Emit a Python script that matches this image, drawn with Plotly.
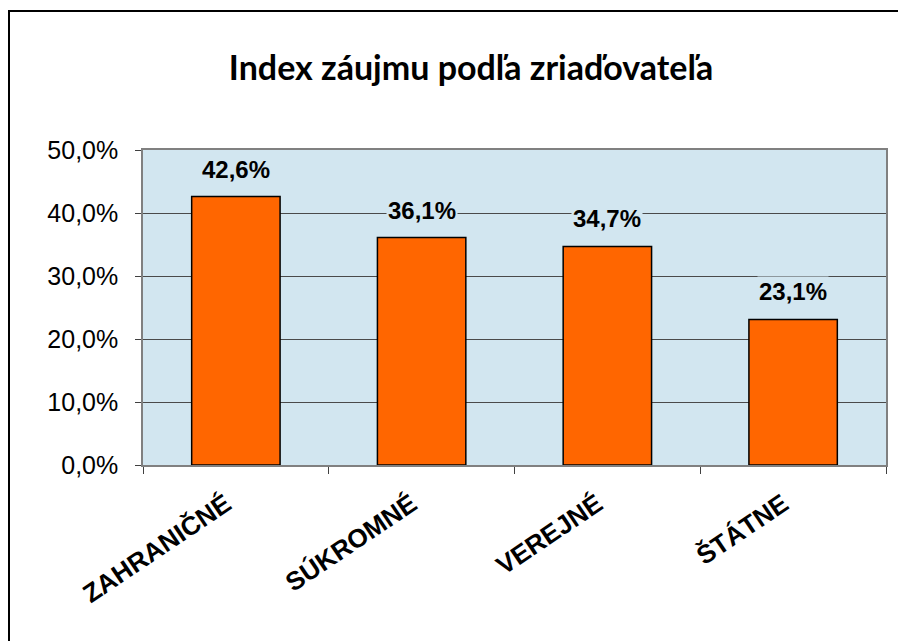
import plotly.graph_objects as go

categories = ["ZAHRANIČNÉ", "SÚKROMNÉ", "VEREJNÉ", "ŠTÁTNE"]
values = [42.6, 36.1, 34.7, 23.1]
tick_vals = [0, 10, 20, 30, 40, 50]
tick_text = ["0,0%", "10,0%", "20,0%", "30,0%", "40,0%", "50,0%"]
title_text = "Index záujmu podľa zriaďovateľa"

labels = [f"{v:.1f}%".replace(".", ",") for v in values]

OFF = 8  # page body margin
L, T, PW, PH = 143 - OFF, 150 - OFF, 743, 315
W, H = 906, 641
BG = "#D2E6F0"

fig = go.Figure()
fig.add_trace(go.Bar(
    x=categories, y=values,
    marker=dict(color="#FF6600", line=dict(color="#000000", width=1.5)),
))

for c, v, t in zip(categories, values, labels):
    fig.add_annotation(x=c, y=v, text="<b>" + t + "</b>", showarrow=False,
                       yanchor="bottom", yshift=12, bgcolor=BG, borderpad=1,
                       font=dict(family="Liberation Sans, Arial", size=24, color="#000000"))

fig.update_layout(
    width=W, height=H,
    paper_bgcolor="white",
    plot_bgcolor=BG,
    margin=dict(l=L, r=W - L - PW, t=T, b=H - T - PH),
    bargap=0.524,
    showlegend=False,
    title=dict(text="<b>" + title_text + "</b>", x=(471 - OFF) / W, xanchor="center",
               y=1 - (68 - OFF) / H, yanchor="middle",
               font=dict(family="Lato, Open Sans", size=34, color="#000000")),
    font=dict(family="Liberation Sans, Arial", color="#000000"),
)
fig.update_yaxes(
    range=[0, 50], tickvals=tick_vals, ticktext=tick_text,
    showgrid=True, gridcolor="#4a4a4a", gridwidth=1,
    showline=True, linecolor="#808080", linewidth=1.5, mirror=True,
    ticks="outside", ticklen=6, tickcolor="#404040",
    tickfont=dict(size=25, family="Liberation Sans, Arial"),
    ticklabelstandoff=12,
    zeroline=False,
)
fig.update_xaxes(
    tickangle=-34, tickson="boundaries",
    showline=True, linecolor="#808080", linewidth=1.5, mirror=True,
    ticks="outside", ticklen=7, tickcolor="#404040",
    tickfont=dict(size=26, family="Liberation Sans, Arial"),
    ticklabelstandoff=12, ticklabelshift=-10,
)
fig.for_each_xaxis(lambda a: a.update(ticktext=["<b>" + c + "</b>" for c in categories], tickvals=categories))

fig.add_shape(type="rect", xref="paper", yref="paper",
              x0=-(L - 1) / PW, x1=1.2, y0=-0.8, y1=1 + (T - 3) / PH,
              line=dict(color="#000000", width=2), fillcolor="rgba(0,0,0,0)", layer="above")

fig.write_html("out.html")
